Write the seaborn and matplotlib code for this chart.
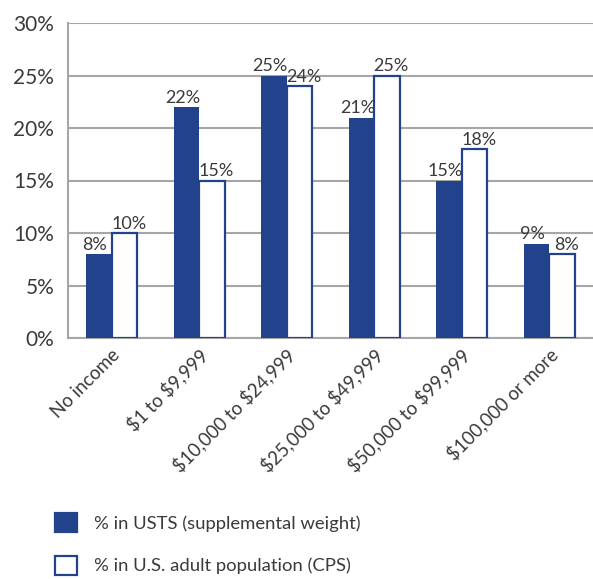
import matplotlib
matplotlib.use('Agg')
from matplotlib import pyplot as plt
from matplotlib import transforms
import pandas as pd
import seaborn as sns

categories = ["No income", "$1 to $9,999", "$10,000 to $24,999",
              "$25,000 to $49,999", "$50,000 to $99,999", "$100,000 or more"]
usts = [8, 22, 25, 21, 15, 9]
cps = [10, 15, 24, 25, 18, 8]
series = ["% in USTS (supplemental weight)", "% in U.S. adult population (CPS)"]

NAVY = "#22438c"
GRID = "#a6a6a6"
TXT = "#3a3a3a"

sns.set_style("white")
plt.rcParams['font.family'] = ['Lato', 'DejaVu Sans']
plt.rcParams['text.parse_math'] = False

df = pd.DataFrame({
    "cat": categories * 2,
    "val": usts + cps,
    "series": [series[0]] * len(categories) + [series[1]] * len(categories),
})

fig = plt.figure(figsize=(5.93, 5.79), dpi=100)
ax = fig.add_axes([68 / 593, (579 - 338) / 579, 1 - 68 / 593, (338 - 23) / 579])

sns.barplot(data=df, x="cat", y="val", hue="series", order=categories,
            hue_order=series, palette=[NAVY, "white"], width=0.58,
            edgecolor=NAVY, linewidth=1.6, saturation=1, ax=ax, zorder=3)

# labels nudged apart a little so neighbouring ones don't collide
for cont, s in zip(ax.containers, series):
    if s == series[0]:
        for bar in cont:
            bar.set_linewidth(0)
    anns = ax.bar_label(cont, fmt="%d%%", padding=1, fontsize=13, color=TXT)
    dx = -3 if s == series[0] else 3
    for a in anns:
        a.xyann = (dx, 1)

ax.set_ylim(0, 30)
ax.set_yticks(range(0, 31, 5))
ax.set_yticklabels([f"{v}%" for v in range(0, 31, 5)], fontsize=15, color=TXT)
ax.yaxis.grid(True, color=GRID, linewidth=1.5, zorder=0)
ax.set_axisbelow(True)
ax.tick_params(axis="y", length=7, width=1.5, color=GRID, pad=3)
ax.tick_params(axis="x", length=0, pad=10)
ax.set_xticks(range(len(categories)))
ax.set_xticklabels(categories, rotation=45, ha="right", va="center",
                   rotation_mode="anchor", fontsize=13.4, color=TXT)
shift = transforms.ScaledTranslation(4 / 72, 0, fig.dpi_scale_trans)
for lab in ax.get_xticklabels():
    lab.set_transform(lab.get_transform() + shift)
ax.set_xlabel("")
ax.set_ylabel("")
ax.set_xlim(-0.5, len(categories) - 0.5)
for side in ["top", "right"]:
    ax.spines[side].set_visible(False)
for side in ["left", "bottom"]:
    ax.spines[side].set_color(GRID)
    ax.spines[side].set_linewidth(1.5)

handles, labels = ax.get_legend_handles_labels()
ax.get_legend().remove()
leg = fig.legend(handles, labels, loc="upper left", bbox_to_anchor=(0.064, 0.143),
                 frameon=False, fontsize=13.3, labelcolor=TXT, handlelength=1.2,
                 handleheight=1.2, handletextpad=0.95, labelspacing=1.3)
for h in leg.legend_handles:
    h.set_edgecolor(NAVY)
    h.set_linewidth(1.6)

fig.savefig("out.png", dpi=100)
